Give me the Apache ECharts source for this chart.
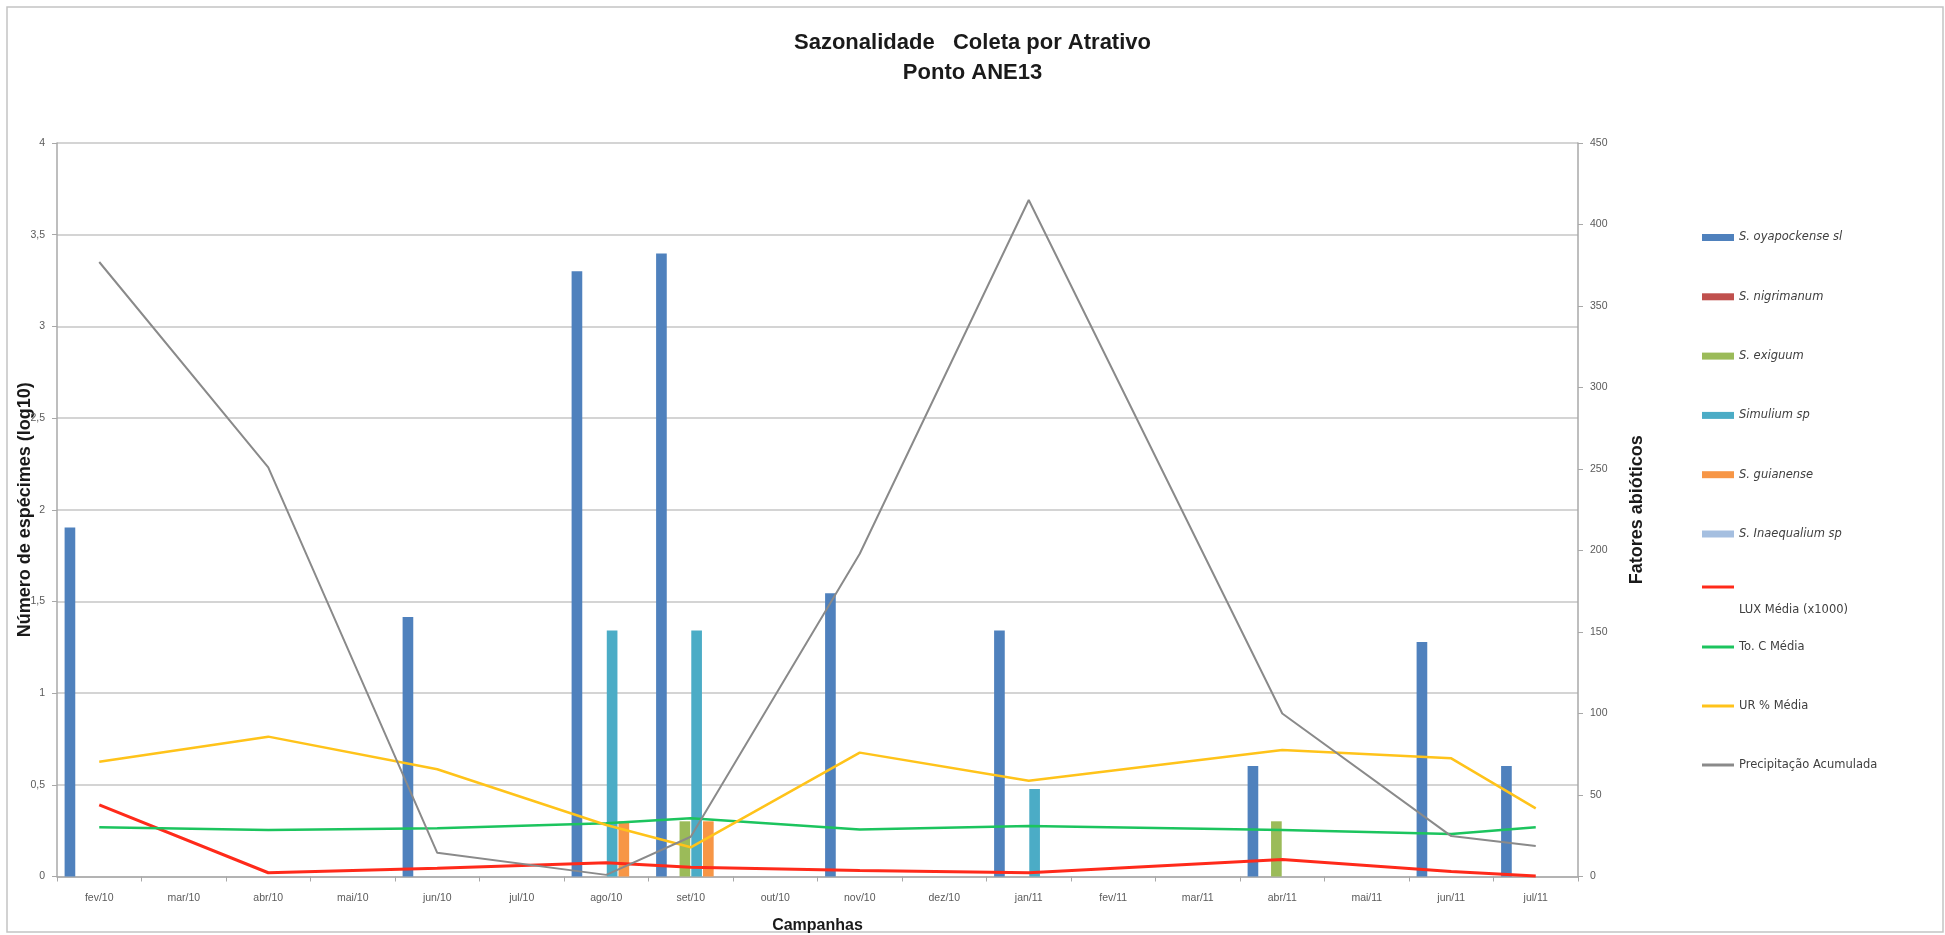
<!DOCTYPE html>
<html>
<head>
<meta charset="utf-8">
<title>Sazonalidade Coleta por Atrativo - Ponto ANE13</title>
<script src="https://cdn.jsdelivr.net/npm/echarts@6/dist/echarts.min.js"></script>
<style>
  html, body { margin: 0; padding: 0; background: #ffffff; }
  #chart { width: 1945px; height: 935px; }
</style>
</head>
<body>
<div id="chart"></div>
<script>
// Campaign months
const campanhas = ['fev/10', 'mar/10', 'abr/10', 'mai/10', 'jun/10', 'jul/10', 'ago/10', 'set/10', 'out/10',
  'nov/10', 'dez/10', 'jan/11', 'fev/11', 'mar/11', 'abr/11', 'mai/11', 'jun/11', 'jul/11'];

// Number of specimens (log10) per species
const oyapockense = [1.903, null, null, null, 1.415, null, 3.301, 3.398, null, 1.544, null, 1.342, null, null, 0.602, null, 1.279, 0.602];
const nigrimanum  = [null, null, null, null, null, null, null, null, null, null, null, null, null, null, null, null, null, null];
const exiguum     = [null, null, null, null, null, null, null, 0.301, null, null, null, null, null, null, 0.301, null, null, null];
const simuliumSp  = [null, null, null, null, null, null, 1.342, 1.342, null, null, null, 0.477, null, null, null, null, null, null];
const guianense   = [null, null, null, null, null, null, 0.301, 0.301, null, null, null, null, null, null, null, null, null, null];
const inaequalium = [null, null, null, null, null, null, null, null, null, null, null, null, null, null, null, null, null, null];

// Abiotic factors
const luxMedia    = [43.9, null, 2.3, null, 5.0, null, 8.5, 5.6, null, 3.7, null, 2.3, null, null, 10.5, null, 3.0, 0.3];
const tempMedia   = [30.2, null, 28.5, null, 29.6, null, 32.6, 35.7, null, 28.8, null, 31.0, null, null, 28.5, null, 26.0, 30.2];
const urMedia     = [70.4, null, 85.8, null, 65.8, null, 31.6, 17.9, null, 76.0, null, 58.8, null, null, 77.6, null, 72.5, 41.8];
const precipAcum  = [377, null, 251, null, 14.5, null, 1, 24.4, null, 198, null, 415, null, null, 100, null, 24.8, 18.7];

// Axis ticks
const leftMin = 0, leftMax = 4, leftStep = 0.5;
const rightMin = 0, rightMax = 450, rightStep = 50;

const chart = echarts.init(document.getElementById('chart'), null, { renderer: 'canvas' });

const tickFont = { fontFamily: 'Liberation Sans', fontSize: 10.5, color: '#5a5a5a' };
const legendFont = { fontFamily: 'DejaVu Sans', fontSize: 11.5, color: '#404040', lineHeight: 14 };
const nameFont = { fontFamily: 'Liberation Sans', fontWeight: 'bold', fontSize: 18, color: '#1a1a1a' };

function barSeries(name, data, color) {
  return {
    name: name, type: 'bar', data: data, yAxisIndex: 0,
    barGap: '10%', barCategoryGap: '18%',
    itemStyle: { color: color },
    emphasis: { disabled: true }
  };
}
function lineSeries(name, data, color, width) {
  return {
    name: name, type: 'line', data: data, yAxisIndex: 1,
    connectNulls: true, symbol: 'none', smooth: false,
    lineStyle: { color: color, width: width },
    itemStyle: { color: color },
    emphasis: { disabled: true }
  };
}

const option = {
  backgroundColor: '#ffffff',
  animation: false,
  title: {
    text: 'Sazonalidade   Coleta por Atrativo\nPonto ANE13',
    left: 'center', top: 23,
    textStyle: { fontFamily: 'Liberation Sans', fontWeight: 'bold', fontSize: 22, lineHeight: 30, color: '#1a1a1a' }
  },
  graphic: [
    { type: 'rect', shape: { x: 7, y: 7, width: 1936, height: 925 }, style: { fill: 'none', stroke: '#c4c4c4', lineWidth: 1.5 }, silent: true }
  ],
  legend: [
    {
      data: ['S. oyapockense sl', 'S. nigrimanum', 'S. exiguum', 'Simulium sp', 'S. guianense', 'S. Inaequalium sp'],
      orient: 'vertical', left: 1697, top: 225.5, itemGap: 45.3, itemWidth: 32, itemHeight: 7,
      icon: 'rect', textStyle: Object.assign({ fontStyle: 'italic' }, legendFont), selectedMode: false
    },
    {
      data: ['LUX Média (x1000)'],
      orient: 'vertical', left: 1697, top: 553, itemWidth: 32, itemHeight: 3,
      icon: 'rect',
      formatter: '{a|{name}}',
      textStyle: Object.assign({ rich: { a: Object.assign({ padding: [46, 0, 0, 0] }, legendFont) } }, legendFont),
      selectedMode: false
    },
    {
      data: ['To. C Média', 'UR % Média', 'Precipitação Acumulada'],
      orient: 'vertical', left: 1697, top: 635, itemGap: 45, itemWidth: 32, itemHeight: 3,
      icon: 'rect',
      textStyle: legendFont, selectedMode: false
    }
  ],
  grid: { left: 57, right: 367, top: 143, bottom: 58.5, containLabel: false, outerBoundsMode: 'none' },
  xAxis: {
    type: 'category', data: campanhas, boundaryGap: true,
    name: 'Campanhas', nameLocation: 'middle', nameGap: 41, nameMoveOverlap: false,
    nameTextStyle: { fontFamily: 'Liberation Sans', fontWeight: 'bold', fontSize: 16, color: '#1a1a1a' },
    axisLine: { lineStyle: { color: '#a8a8a8', width: 1.5 } },
    axisTick: { show: true, length: 5, interval: 0, lineStyle: { color: '#a8a8a8' } },
    axisLabel: Object.assign({ interval: 0, margin: 16 }, tickFont),
    splitLine: { show: false }
  },
  yAxis: [
    {
      type: 'value', min: leftMin, max: leftMax, interval: leftStep, position: 'left',
      name: 'Número de espécimes (log10)', nameLocation: 'middle', nameGap: 23, nameRotate: 90, nameMoveOverlap: false,
      nameTextStyle: nameFont,
      axisLine: { show: true, lineStyle: { color: '#a8a8a8', width: 1.5 } },
      axisTick: { show: true, length: 5, lineStyle: { color: '#a8a8a8' } },
      axisLabel: Object.assign({ margin: 12, formatter: v => String(v).replace('.', ',') }, tickFont),
      splitLine: { show: true, lineStyle: { color: '#c6c6c6', width: 1.5 } }
    },
    {
      type: 'value', min: rightMin, max: rightMax, interval: rightStep, position: 'right',
      name: 'Fatores abióticos', nameLocation: 'middle', nameGap: 50, nameRotate: 90, nameMoveOverlap: false,
      nameTextStyle: nameFont,
      axisLine: { show: true, lineStyle: { color: '#a8a8a8', width: 1.5 } },
      axisTick: { show: true, length: 5, lineStyle: { color: '#a8a8a8' } },
      axisLabel: Object.assign({ margin: 12 }, tickFont),
      splitLine: { show: false }
    }
  ],
  series: [
    barSeries('S. oyapockense sl', oyapockense, '#4f81bd'),
    barSeries('S. nigrimanum', nigrimanum, '#c0504d'),
    barSeries('S. exiguum', exiguum, '#9bbb59'),
    barSeries('Simulium sp', simuliumSp, '#4bacc6'),
    barSeries('S. guianense', guianense, '#f79646'),
    barSeries('S. Inaequalium sp', inaequalium, '#a5bfe0'),
    lineSeries('LUX Média (x1000)', luxMedia, '#ff2a1a', 3),
    lineSeries('To. C Média', tempMedia, '#1cc45e', 2.5),
    lineSeries('UR % Média', urMedia, '#ffc31a', 2.5),
    lineSeries('Precipitação Acumulada', precipAcum, '#8a8a8a', 2)
  ]
};

chart.setOption(option);
</script>
</body>
</html>
